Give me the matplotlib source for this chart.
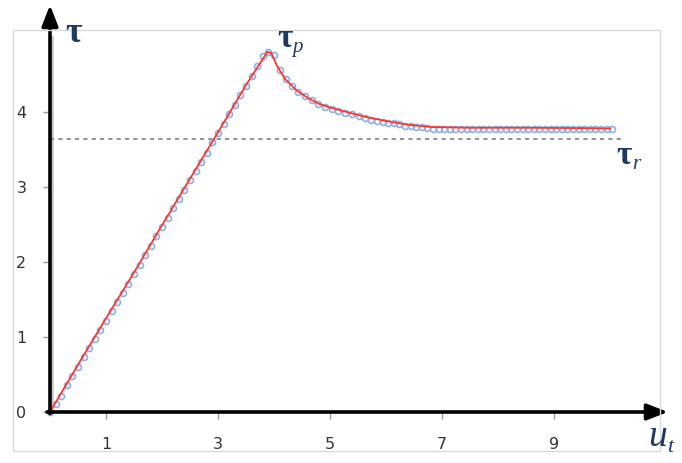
import matplotlib
matplotlib.use("Agg")
import matplotlib.pyplot as plt
from matplotlib.patches import Rectangle

# ---- data: measured points ----
u_points = [0.0, 0.1, 0.2, 0.3, 0.4, 0.5, 0.6, 0.7, 0.8, 0.9,
            1.0, 1.1, 1.2, 1.3, 1.4, 1.5, 1.6, 1.7, 1.8, 1.9,
            2.0, 2.1, 2.2, 2.3, 2.4, 2.5, 2.6, 2.7, 2.8, 2.9,
            3.0, 3.1, 3.2, 3.3, 3.4, 3.5, 3.6, 3.7, 3.8, 3.9, 4.0,
            4.11, 4.21, 4.32, 4.43, 4.55, 4.67, 4.79, 4.91, 5.03, 5.15,
            5.27, 5.39, 5.51, 5.63, 5.74, 5.84, 5.94, 6.04, 6.14, 6.24,
            6.34, 6.44, 6.54, 6.64, 6.74,
            6.84, 6.94, 7.04, 7.14, 7.24, 7.34, 7.44, 7.54, 7.64, 7.74,
            7.84, 7.94, 8.04, 8.14, 8.24, 8.34, 8.44, 8.54, 8.64, 8.74,
            8.84, 8.94, 9.04, 9.14, 9.24, 9.34, 9.44, 9.54, 9.64, 9.74,
            9.84, 9.94, 10.04]
tau_points = [0.00, 0.11, 0.22, 0.36, 0.48, 0.60, 0.74, 0.85, 0.97, 1.09,
              1.22, 1.35, 1.47, 1.59, 1.71, 1.84, 1.96, 2.09, 2.22, 2.35,
              2.47, 2.59, 2.72, 2.84, 2.96, 3.09, 3.21, 3.34, 3.46, 3.60,
              3.72, 3.84, 3.97, 4.10, 4.23, 4.35, 4.48, 4.62, 4.75, 4.80, 4.76,
              4.56, 4.44, 4.35, 4.27, 4.21, 4.16, 4.11, 4.07, 4.04, 4.01,
              3.99, 3.97, 3.95, 3.92, 3.89, 3.88, 3.87, 3.86, 3.85, 3.84,
              3.82, 3.81, 3.80, 3.80, 3.79,
              3.78, 3.78, 3.78, 3.78, 3.78, 3.78, 3.78, 3.78, 3.78, 3.78,
              3.78, 3.78, 3.78, 3.78, 3.78, 3.78, 3.78, 3.78, 3.78, 3.77,
              3.77, 3.77, 3.77, 3.77, 3.77, 3.77, 3.77, 3.77, 3.77, 3.77,
              3.77, 3.77, 3.77]

# ---- data: model curve ----
u_model = [0.0, 0.5, 1.0, 1.5, 2.0, 2.5, 3.0, 3.5, 3.88, 3.95, 4.05, 4.2,
           4.4, 4.6, 4.8, 5.0, 5.3, 5.6, 6.0, 6.4, 6.8, 7.5, 8.5, 9.5, 10.0]
tau_model = [0.0, 0.63, 1.25, 1.86, 2.49, 3.11, 3.73, 4.36, 4.80, 4.79, 4.62, 4.44,
             4.29, 4.19, 4.11, 4.06, 4.00, 3.94, 3.88, 3.83, 3.80, 3.79, 3.79, 3.785, 3.78]

tau_residual = 3.64
x_ticks = [1, 3, 5, 7, 9]
y_ticks = [0, 1, 2, 3, 4]

W, H = 682, 463
fig = plt.figure(figsize=(W / 100, H / 100), dpi=100)

# outer chart border
fig.patches.append(Rectangle((13 / W, (H - 451) / H), 647 / W, 421 / H,
                             transform=fig.transFigure, fill=False,
                             edgecolor='#d9d9d9', lw=1.0))

x0, y0 = 50, 412          # pixel origin
px_u, px_t = 56.0, 75.0   # pixels per unit
x_end, y_end = 668, 5
ax = fig.add_axes([x0 / W, (H - y0) / H, (x_end - x0) / W, (y0 - y_end) / H])
ax.set_xlim(0, (x_end - x0) / px_u)
ax.set_ylim(0, (y0 - y_end) / px_t)
ax.patch.set_alpha(0)
for s in ax.spines.values():
    s.set_visible(False)

# light grey excel axis shadow
ax.plot([0.04, 0.04], [0, (412 - 37) / px_t], color='#c8c8c8', lw=2, zorder=1,
        clip_on=False)

# dashed residual line
ax.plot([0, (625 - x0) / px_u], [tau_residual, tau_residual], color='#808080',
        lw=1.2, ls=(0, (2.5, 2.5)), zorder=2)

# points and model
ax.plot(u_points, tau_points, ls='none', marker='o', ms=4.3, mfc='none',
        mec='#8fb0dc', mew=1.2, zorder=3, clip_on=False)
ax.plot(u_model, tau_model, color='#ff3535', lw=1.3, zorder=4, clip_on=False)

# axes arrows
arr = dict(arrowstyle='-|>,head_width=0.35,head_length=0.9', color='black',
           lw=2.6, shrinkA=0, shrinkB=0, mutation_scale=14)
ax.annotate('', xy=(1, 0), xytext=(-3 / (x_end - x0), 0),
            xycoords='axes fraction', arrowprops=arr, zorder=5)
ax.annotate('', xy=(0, 1), xytext=(0, -1.5 / (y0 - y_end)),
            xycoords='axes fraction', arrowprops=arr, zorder=5)

ax.set_xticks(x_ticks)
ax.set_xticklabels([str(v) for v in x_ticks])
ax.set_yticks(y_ticks)
ax.set_yticklabels([str(v) for v in y_ticks])
ax.tick_params(axis='x', length=5, width=1, color='#999999', direction='out',
               pad=13, labelsize=11.5, labelcolor='#333333')
ax.tick_params(axis='y', length=5, width=1, color='#999999', direction='out',
               pad=12, labelsize=11.5, labelcolor='#333333')

navy = '#1f3864'
serif = 'Liberation Serif'
fig.text(65 / W, 1 - 42 / H, 'τ', fontsize=26, color=navy, family=serif,
         weight='bold', ha='left', va='baseline')
fig.text(277 / W, 1 - 47 / H, 'τ', fontsize=24, color=navy, family=serif,
         weight='bold', ha='left', va='baseline')
fig.text(292 / W, 1 - 52 / H, 'p', fontsize=15, color=navy, family=serif,
         style='italic', ha='left', va='baseline')
fig.text(616 / W, 1 - 164 / H, 'τ', fontsize=24, color=navy, family=serif,
         weight='bold', ha='left', va='baseline')
fig.text(632 / W, 1 - 169 / H, 'r', fontsize=15, color=navy, family=serif,
         style='italic', ha='left', va='baseline')
fig.text(648 / W, 1 - 446 / H, 'u', fontsize=27, color=navy, family=serif,
         style='italic', ha='left', va='baseline')
fig.text(667 / W, 1 - 452 / H, 't', fontsize=16, color=navy, family=serif,
         style='italic', ha='left', va='baseline')

fig.savefig('out.png', dpi=100, facecolor='white')
